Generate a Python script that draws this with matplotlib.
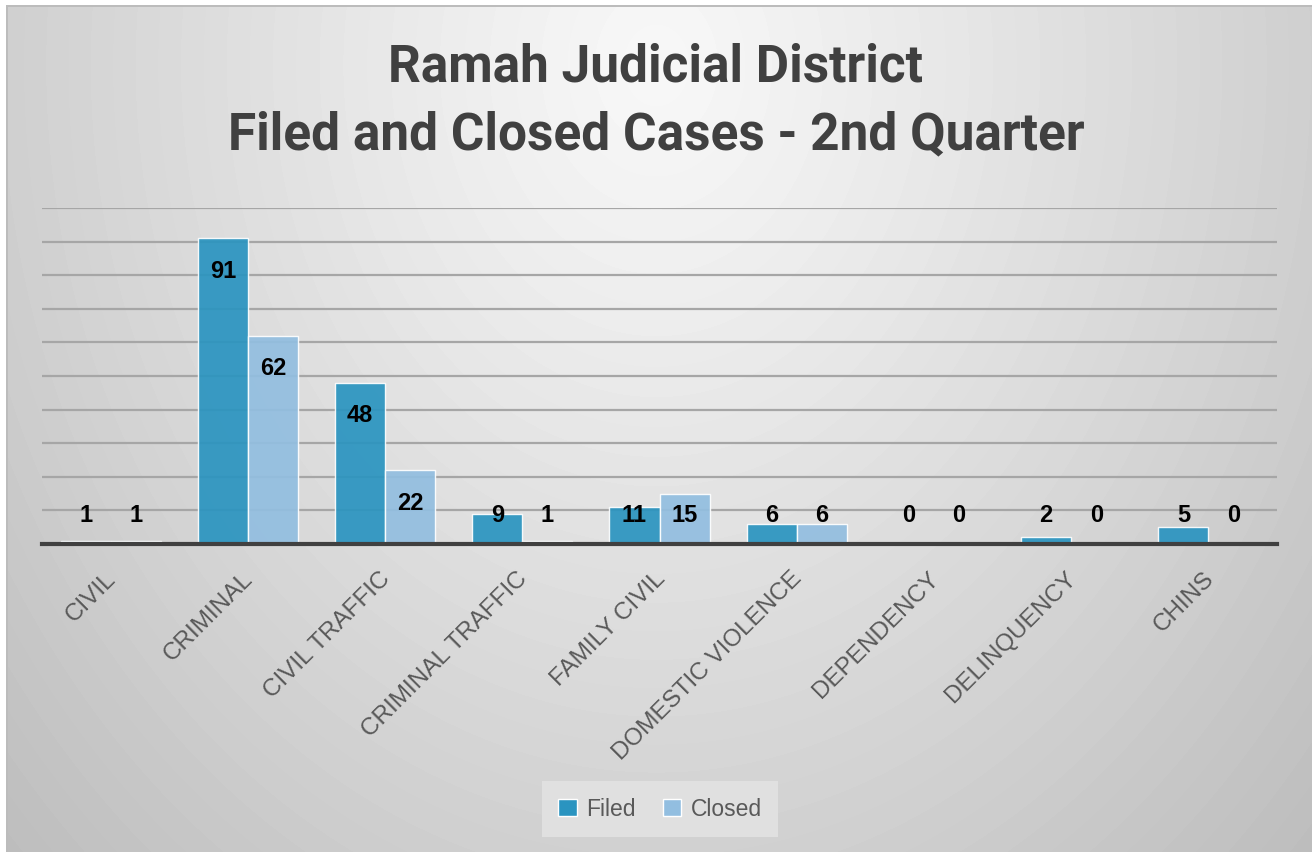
import numpy as np
import matplotlib
matplotlib.use("Agg")
import matplotlib.pyplot as plt
from matplotlib.patches import Patch
from matplotlib.transforms import ScaledTranslation

categories = ["CIVIL", "CRIMINAL", "CIVIL TRAFFIC", "CRIMINAL TRAFFIC", "FAMILY CIVIL",
              "DOMESTIC VIOLENCE", "DEPENDENCY", "DELINQUENCY", "CHINS"]
filed = [1, 91, 48, 9, 11, 6, 0, 2, 5]
closed = [1, 62, 22, 1, 15, 6, 0, 0, 0]

FILED_COLOR = "#2a94c0"
CLOSED_COLOR = "#92bee0"

fig = plt.figure(figsize=(13.12, 8.53), dpi=100)
fig.patch.set_facecolor("white")

# radial grey background, whitest behind the title
bg = fig.add_axes([6 / 1312, 0, 1306 / 1312, 847 / 853], zorder=-10)
H, W = 847, 1306
yy, xx = np.mgrid[0:H, 0:W]
r = np.sqrt((xx - 650.0) ** 2 + ((yy - 60.0) / 1.25) ** 2)
shade = 0.975 - 0.23 * np.clip(r / 900.0, 0, 1) ** 1.1
shade = np.round(shade / 0.006) * 0.006
img = np.dstack([shade] * 3)
img[:2, :, :] = 0.74
img[:, :2, :] = 0.74
bg.imshow(img, aspect="auto", interpolation="bilinear")
bg.axis("off")

ax = fig.add_axes([42 / 1312, 1 - 545 / 853, (1277 - 42) / 1312, (545 - 209) / 853])
ax.patch.set_alpha(0)

x = np.arange(len(categories))
w = 0.365
ax.bar(x - w / 2, filed, w, color=FILED_COLOR, edgecolor="white", linewidth=1, alpha=0.92, zorder=3)
ax.bar(x + w / 2, closed, w, color=CLOSED_COLOR, edgecolor="white", linewidth=1, alpha=0.92, zorder=3)

for xi, v in zip(x - w / 2, filed):
    ax.text(xi, max(v - 9.6, 8.9), str(v), ha="center", va="center", fontsize=17,
            fontweight="bold", family="Liberation Sans", color="black", zorder=5)
for xi, v in zip(x + w / 2, closed):
    ax.text(xi, max(v - 9.6, 8.9), str(v), ha="center", va="center", fontsize=17,
            fontweight="bold", family="Liberation Sans", color="black", zorder=5)

ax.set_ylim(0, 100)
ax.set_xlim(-0.5, len(categories) - 0.5)
ax.set_yticks(np.arange(10, 101, 10))
ax.yaxis.grid(True, color="#a6a6a6", linewidth=1.6, zorder=0)
ax.set_axisbelow(True)
ax.tick_params(axis="y", left=False, labelleft=False)
ax.tick_params(axis="x", length=0, pad=22)
for s in ["top", "right", "left"]:
    ax.spines[s].set_visible(False)
ax.spines["bottom"].set_color("#404040")
ax.spines["bottom"].set_linewidth(3)
ax.spines["bottom"].set_zorder(6)

ax.set_xticks(x)
ax.set_xticklabels(categories, rotation=45, ha="right", va="center", rotation_mode="anchor",
                   fontsize=17.5, family="Liberation Sans", color="#595959")
shift = ScaledTranslation(2 / 100, 0, fig.dpi_scale_trans)
for lab in ax.get_xticklabels():
    lab.set_transform(lab.get_transform() + shift)

fig.text(0.5, 1 - 68 / 853, "Ramah Judicial District", ha="center", va="center",
         fontsize=37, fontweight="bold", family="Roboto", color="#404040")
fig.text(0.5, 1 - 135 / 853, "Filed and Closed Cases - 2nd Quarter", ha="center", va="center",
         fontsize=37, fontweight="bold", family="Roboto", color="#404040")

handles = [Patch(facecolor=FILED_COLOR, edgecolor="white", label="Filed"),
           Patch(facecolor=CLOSED_COLOR, edgecolor="white", label="Closed")]
leg = fig.legend(handles=handles, loc="center", bbox_to_anchor=(660 / 1312, 1 - 810 / 853),
                 ncol=2, frameon=True, fontsize=16.5, handlelength=0.8, handleheight=0.8,
                 handletextpad=0.4, columnspacing=1.2, borderpad=0.7, fancybox=False)
leg.get_frame().set_facecolor("#e4e4e4")
leg.get_frame().set_edgecolor("none")
leg.get_frame().set_alpha(0.8)
for t in leg.get_texts():
    t.set_color("#595959")
    t.set_family("Liberation Sans")

fig.savefig("out.png", dpi=100)
